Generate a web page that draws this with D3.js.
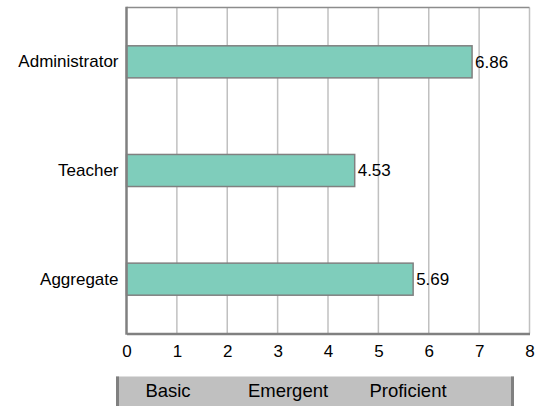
<!DOCTYPE html>
<html>
<head>
<meta charset="utf-8">
<script src="https://cdn.jsdelivr.net/npm/d3@7/dist/d3.min.js"></script>
<style>
  html, body { margin: 0; padding: 0; background: #fff; }
  svg { display: block; font-family: Arial, "Liberation Sans", sans-serif; }
</style>
</head>
<body>
<svg id="chart" width="537" height="406"></svg>
<script>
// Mean rubric scores by respondent group
const categories = ["Administrator", "Teacher", "Aggregate"];
const scores = [6.86, 4.53, 5.69];
const xTicks = [0, 1, 2, 3, 4, 5, 6, 7, 8];
const levelLabels = ["Basic", "Emergent", "Proficient"];

const svg = d3.select("#chart");
const plot = { left: 126.5, right: 529.5, top: 7.5, bottom: 333.5 };

const x = d3.scaleLinear().domain([0, 8]).range([plot.left, plot.right]);
const y = d3.scaleBand().domain(categories).range([plot.top, plot.bottom])
  .paddingInner(0.705).paddingOuter(0.3525);

// vertical gridlines
svg.append("g").selectAll("line").data(xTicks.slice(1)).join("line")
  .attr("x1", d => x(d)).attr("x2", d => x(d))
  .attr("y1", plot.top).attr("y2", plot.bottom)
  .attr("stroke", "#c0c0c0").attr("stroke-width", 1.5);

// top border
svg.append("line")
  .attr("x1", plot.left).attr("x2", plot.right)
  .attr("y1", plot.top).attr("y2", plot.top)
  .attr("stroke", "#8c8c8c").attr("stroke-width", 1.5);

// bars
svg.append("g").selectAll("rect").data(categories).join("rect")
  .attr("x", x(0))
  .attr("y", d => y(d))
  .attr("width", (d, i) => x(scores[i]) - x(0))
  .attr("height", y.bandwidth())
  .attr("fill", "#7fcdbb")
  .attr("stroke", "#808080").attr("stroke-width", 1.5);

// value labels
svg.append("g").selectAll("text").data(categories).join("text")
  .attr("x", (d, i) => x(scores[i]) + 3)
  .attr("y", d => y(d) + y.bandwidth() / 2)
  .attr("dy", "0.35em")
  .attr("font-size", 17).attr("fill", "#000")
  .text((d, i) => scores[i].toFixed(2));

// x axis
const xAxis = svg.append("g")
  .attr("transform", `translate(0,${plot.bottom})`)
  .call(d3.axisBottom(x).tickValues(xTicks).tickSize(0).tickPadding(11).tickFormat(d3.format("d")));
xAxis.select(".domain").attr("stroke", "#808080").attr("stroke-width", 2.5);
xAxis.selectAll("text").attr("font-size", 17).attr("fill", "#000").attr("font-family", null);

// y axis
const yAxis = svg.append("g")
  .attr("transform", `translate(${plot.left},0)`)
  .call(d3.axisLeft(y).tickSize(0).tickPadding(8));
yAxis.select(".domain").attr("stroke", "#808080").attr("stroke-width", 2.5)
  .attr("d", `M0,${plot.top - 0.75}V${plot.bottom + 1.25}`);
yAxis.selectAll("text").attr("font-size", 17).attr("fill", "#000").attr("font-family", null);

// proficiency band strip
const strip = { left: 116, right: 514, top: 376.5, bottom: 406 };
svg.append("rect")
  .attr("x", strip.left).attr("y", strip.top)
  .attr("width", strip.right - strip.left).attr("height", strip.bottom - strip.top)
  .attr("fill", "#c0c0c0");
[strip.left + 1.5, strip.right - 1.5].forEach(px => {
  svg.append("line").attr("x1", px).attr("x2", px)
    .attr("y1", strip.top).attr("y2", strip.bottom)
    .attr("stroke", "#808080").attr("stroke-width", 3);
});
const levelX = d3.scalePoint().domain(levelLabels).range([168, 408]);
svg.append("g").selectAll("text").data(levelLabels).join("text")
  .attr("x", d => levelX(d)).attr("y", 397)
  .attr("text-anchor", "middle")
  .attr("font-size", 18.5).attr("fill", "#000")
  .text(d => d);
</script>
</body>
</html>
